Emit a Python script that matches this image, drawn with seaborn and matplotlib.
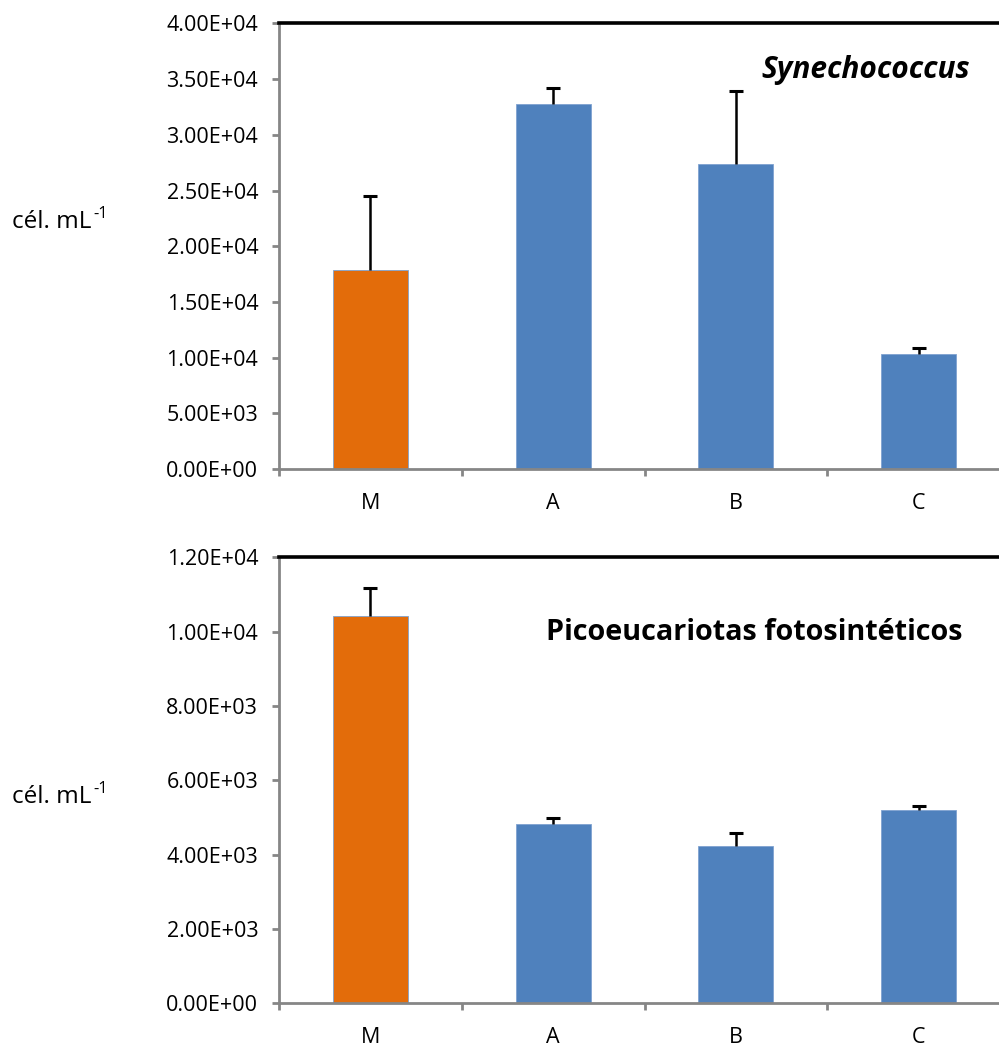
import matplotlib
matplotlib.use("Agg")
import matplotlib.pyplot as plt
import matplotlib.ticker as mticker
import seaborn as sns
import pandas as pd
import numpy as np

sns.set_theme(style="white")
plt.rcParams["font.family"] = ["Open Sans", "DejaVu Sans"]

# Sites: M (reference) and A, B, C
categories = ["M", "A", "B", "C"]

syn_values = [17900, 32800, 27400, 10300]
syn_errors = [6650, 1450, 6550, 600]

pico_values = [10430, 4830, 4230, 5200]
pico_errors = [750, 160, 350, 120]

orange = "#E36C0A"
blue = "#4F81BD"
bar_colors = [orange, blue, blue, blue]
axis_gray = "#868686"

fig = plt.figure(figsize=(9.99, 10.48), dpi=100)
ax_top = fig.add_axes([0.2793, 0.5525, 0.7317, 0.4251])
ax_bot = fig.add_axes([0.2793, 0.04265, 0.7317, 0.42555])


def draw_panel(ax, values, errors, ymax, ystep):
    df = pd.DataFrame({"site": categories, "cells": values})
    sns.barplot(data=df, x="site", y="cells", hue="site", palette=bar_colors,
                order=categories, hue_order=categories, width=0.41,
                errorbar=None, legend=False, ax=ax, saturation=1,
                edgecolor="#7FA2D0", linewidth=0.6)
    # upper-only error bars: stem from bar top plus a cap at the end
    xs = np.arange(len(categories))
    tops = np.asarray(values) + np.asarray(errors)
    ax.errorbar(xs, values, yerr=[np.zeros(len(errors)), errors], fmt="none",
                ecolor="black", elinewidth=1.8, capsize=0, zorder=5)
    ax.scatter(xs, tops, marker="_", s=95, linewidths=2.2, color="black",
               zorder=6)
    ax.set_xlim(-0.5, 3.5)
    ax.set_ylim(0, ymax)
    ax.yaxis.set_major_locator(mticker.MultipleLocator(ystep))
    ax.yaxis.set_major_formatter(mticker.FormatStrFormatter("%.2E"))
    ax.set_xlabel("")
    ax.set_ylabel("")

    for side in ("left", "bottom"):
        ax.spines[side].set_color(axis_gray)
        ax.spines[side].set_linewidth(2.0)
    ax.spines["top"].set_color("black")
    ax.spines["top"].set_linewidth(2.6)
    ax.spines["right"].set_visible(False)

    ax.xaxis.set_minor_locator(mticker.FixedLocator([-0.5, 0.5, 1.5, 2.5, 3.5]))
    ax.tick_params(axis="x", which="major", length=0, pad=17, labelsize=15.5,
                   labelcolor="black")
    ax.tick_params(axis="x", which="minor", bottom=True, length=5, width=2,
                   color=axis_gray, direction="out")
    ax.tick_params(axis="y", which="major", left=True, length=5, width=2,
                   color=axis_gray, pad=10, labelsize=15.5, labelcolor="black")
    ax.grid(False)


draw_panel(ax_top, syn_values, syn_errors, 40000, 5000)
draw_panel(ax_bot, pico_values, pico_errors, 12000, 2000)

H = 1048
ax_top.text(970, H - 70, "Synechococcus", transform=None, ha="right",
            va="center", fontsize=21.5, fontweight="bold", fontstyle="italic",
            color="black")
ax_bot.text(962, H - 632, "Picoeucariotas fotosintéticos", transform=None,
            ha="right", va="center", fontsize=20.7, fontweight="bold",
            color="black")

# y-axis unit labels, written horizontally left of each panel
for yc in (222, 797):
    fig.text(12 / 999, 1 - yc / H, "cél. mL", ha="left", va="center",
             fontsize=17.5, color="black")
    fig.text(93 / 999, 1 - (yc - 8) / H, "-1", ha="left", va="center",
             fontsize=12, color="black")

fig.savefig("out.png", dpi=100, facecolor="white")
